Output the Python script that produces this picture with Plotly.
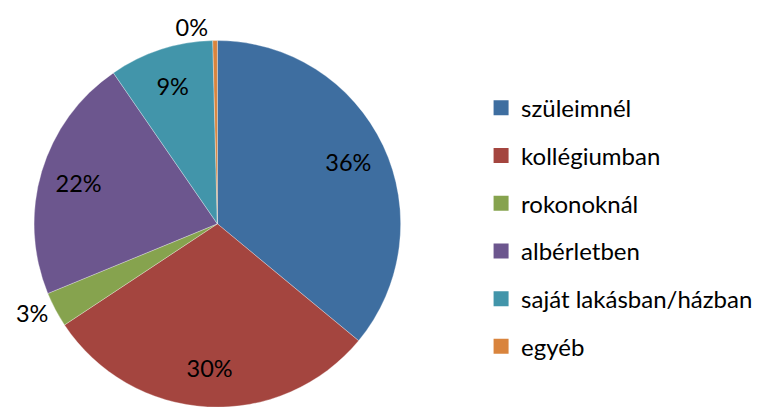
import plotly.graph_objects as go

labels = ["szüleimnél", "kollégiumban", "rokonoknál", "albérletben", "saját lakásban/házban", "egyéb"]
values = [36.0, 29.7, 3.1, 21.6, 9.2, 0.4]
colors = ["#3E6EA0", "#A4453F", "#86A34E", "#6C568E", "#4295AA", "#D9843D"]
text_positions = ["inside", "inside", "outside", "inside", "inside", "outside"]

W, H = 764, 407
FONT = "Lato"
DOMAIN = dict(x=[17 / W, 390 / W], y=[8 / H, 381 / H])

fig = go.Figure()
# the coloured pie
fig.add_trace(go.Pie(
    labels=labels,
    values=values,
    sort=False,
    direction="clockwise",
    rotation=0,
    marker=dict(colors=colors, line=dict(color="rgba(255,255,255,0.6)", width=0.5)),
    textinfo="none",
    showlegend=False,
    domain=DOMAIN,
    hoverinfo="label+percent",
))
# transparent ring carrying the percentage labels (places them toward the rim)
fig.add_trace(go.Pie(
    labels=labels,
    values=values,
    sort=False,
    direction="clockwise",
    rotation=0,
    hole=0.58,
    marker=dict(colors=["rgba(0,0,0,0)"] * len(labels), line=dict(width=0)),
    texttemplate="%{percent:.0%}",
    textposition=text_positions,
    insidetextorientation="horizontal",
    textfont=dict(family=FONT, size=23.5, color="#000000"),
    showlegend=False,
    domain=DOMAIN,
    hoverinfo="skip",
))

# legend entries (one group per category so the spacing can match)
for lab, col in zip(labels, colors):
    fig.add_trace(go.Scatter(
        x=[None], y=[None], mode="markers",
        marker=dict(symbol="square", size=15, color=col),
        name=lab, legendgroup=lab, showlegend=True,
    ))

fig.update_layout(
    width=W, height=H,
    margin=dict(l=0, r=0, t=0, b=0),
    paper_bgcolor="white",
    plot_bgcolor="white",
    font=dict(family=FONT, size=24, color="#000000"),
    xaxis=dict(visible=False),
    yaxis=dict(visible=False),
    legend=dict(
        x=470 / W, xanchor="left",
        y=1 - 72 / H, yanchor="top",
        traceorder="grouped",
        tracegroupgap=13.5,
        font=dict(family=FONT, size=24, color="#000000"),
        itemclick=False,
    ),
)

fig.write_html("out.html")
